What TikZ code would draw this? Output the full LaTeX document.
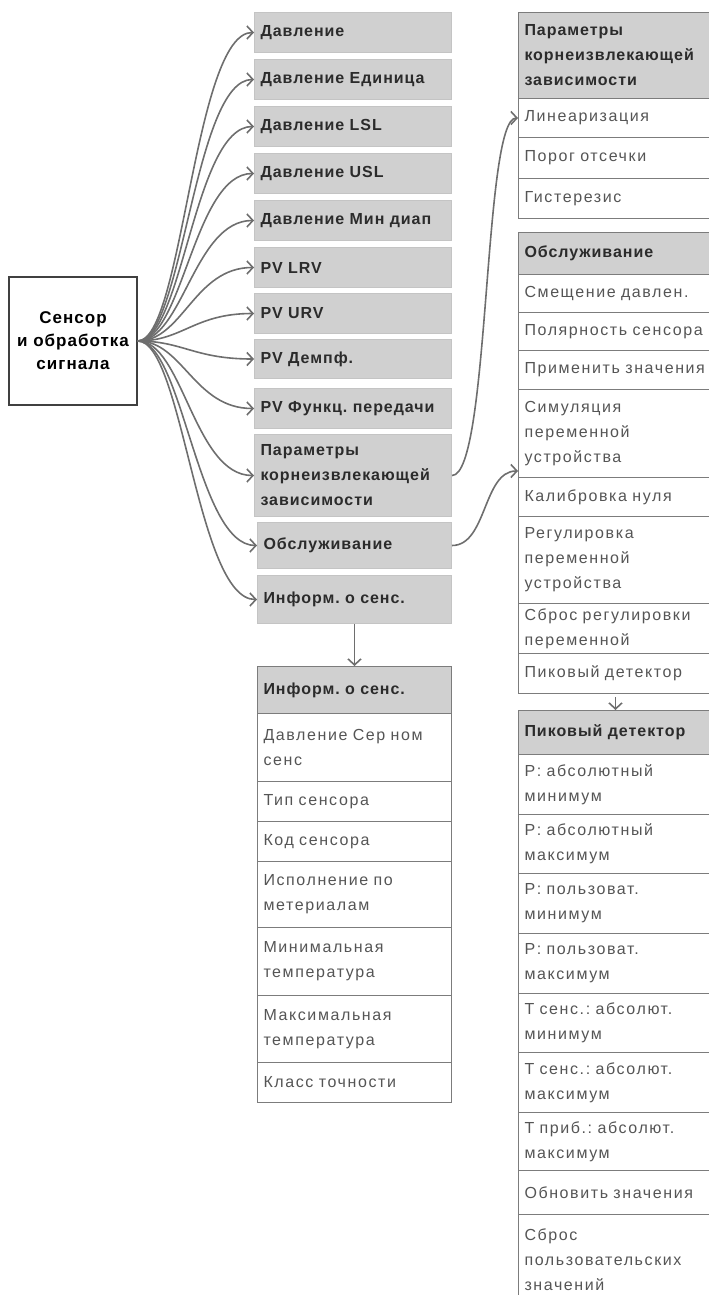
\documentclass[tikz,border=0pt]{standalone}
\usepackage{fontspec}
\setmainfont{Liberation Sans}[LetterSpace=6]
\usepackage{xcolor}
\usetikzlibrary{arrows.meta,positioning}
\frenchspacing
\definecolor{hdrgray}{HTML}{D0D0D0}
\definecolor{boxline}{HTML}{C4C4C4}
\definecolor{rowline}{HTML}{7C7C7C}
\definecolor{rowtext}{HTML}{555555}
\definecolor{hdrtext}{HTML}{2B2B2B}
\definecolor{arrowgray}{HTML}{6E6E6E}
\tikzset{
  cell/.style={anchor=north west, inner xsep=3pt, inner ysep=0pt, align=left,
    text width=91pt, font=\fontsize{8}{12.5}\selectfont},
  leftbox/.style={cell, fill=hdrgray, draw=boxline, line width=0.5pt,
    text=hdrtext, font=\fontsize{8}{12.5}\selectfont\bfseries},
  headrow/.style={cell, fill=hdrgray, draw=rowline, line width=0.5pt,
    text=hdrtext, font=\fontsize{8}{12.5}\selectfont\bfseries},
  plainrow/.style={cell, fill=white, draw=rowline, line width=0.5pt, text=rowtext,
    font=\fontsize{8}{12.5}\selectfont\addfontfeature{LetterSpace=10}},
  sensorbox/.style={draw=black!75, line width=0.75pt, fill=white, align=center,
    minimum width=64pt, minimum height=64pt, inner sep=0pt, text=black,
    font=\fontsize{8.5}{11.5}\selectfont\bfseries},
  fan/.style={draw=arrowgray, line width=0.8pt, -{Straight Barb[length=3pt,width=6.5pt]}}
}

\begin{document}
\begin{tikzpicture}[x=0.5pt,y=-0.5pt]
    \useasboundingbox (0,0) rectangle (708,1295);
    \node[sensorbox] (sensor) at (73,341) {Сенсор\\и обработка\\сигнала};

    \node[leftbox, text width=92.5pt, minimum height=20pt] (davl) at (254,12) {Давление};
    \node[leftbox, text width=92.5pt, minimum height=20pt] (davlUnit) at (254,59) {Давление Единица};
    \node[leftbox, text width=92.5pt, minimum height=20pt] (davlLSL) at (254,106) {Давление LSL};
    \node[leftbox, text width=92.5pt, minimum height=20pt] (davlUSL) at (254,153) {Давление USL};
    \node[leftbox, text width=92.5pt, minimum height=20pt] (davlMin) at (254,200) {Давление Мин диап};
    \node[leftbox, text width=92.5pt, minimum height=20pt] (pvLRV) at (254,247) {PV LRV};
    \node[leftbox, text width=92.5pt, minimum height=20pt] (pvURV) at (254,293) {PV URV};
    \node[leftbox, text width=92.5pt, minimum height=19.5pt] (pvDamp) at (254,339) {PV Демпф.};
    \node[leftbox, text width=92.5pt, minimum height=20pt] (pvTrans) at (254,388) {PV Функц. передачи};
    \node[leftbox, text width=92.5pt, minimum height=41pt] (sqrtPar) at (254,434) {Параметры\\корнеизвлекающей\\зависимости};
    \node[leftbox, minimum height=23pt] (service) at (257,522) {Обслуживание};
    \node[leftbox, minimum height=24pt] (sensInfo) at (257,575) {Информ. о сенс.};

    \draw[fan] (sensor.east) .. controls +(45,0) and +(-60,0) .. (davl.west);
    \draw[fan] (sensor.east) .. controls +(45,0) and +(-60,0) .. (davlUnit.west);
    \draw[fan] (sensor.east) .. controls +(45,0) and +(-60,0) .. (davlLSL.west);
    \draw[fan] (sensor.east) .. controls +(45,0) and +(-60,0) .. (davlUSL.west);
    \draw[fan] (sensor.east) .. controls +(45,0) and +(-60,0) .. (davlMin.west);
    \draw[fan] (sensor.east) .. controls +(45,0) and +(-60,0) .. (pvLRV.west);
    \draw[fan] (sensor.east) .. controls +(45,0) and +(-60,0) .. (pvURV.west);
    \draw[fan] (sensor.east) .. controls +(45,0) and +(-60,0) .. (pvDamp.west);
    \draw[fan] (sensor.east) .. controls +(45,0) and +(-60,0) .. (pvTrans.west);
    \draw[fan] (sensor.east) .. controls +(45,0) and +(-60,0) .. (sqrtPar.west);
    \draw[fan] (sensor.east) .. controls +(45,0) and +(-60,0) .. (service.west);
    \draw[fan] (sensor.east) .. controls +(45,0) and +(-60,0) .. (sensInfo.west);

    \node[headrow, minimum height=23.5pt] (infoHead) at (257,666) {Информ. о сенс.};
    \node[plainrow, minimum height=34pt] (infoSer) at (257,713) {Давление Сер ном\\сенс};
    \node[plainrow, minimum height=20pt] (infoType) at (257,781) {Тип сенсора};
    \node[plainrow, minimum height=20pt] (infoCode) at (257,821) {Код сенсора};
    \node[plainrow, minimum height=33pt] (infoMat) at (257,861) {Исполнение по\\метериалам};
    \node[plainrow, minimum height=34pt] (infoTmin) at (257,927) {Минимальная\\температура};
    \node[plainrow, minimum height=33.5pt] (infoTmax) at (257,995) {Максимальная\\температура};
    \node[plainrow, minimum height=20pt] (infoClass) at (257,1062) {Класс точности};
    \draw[fan] (sensInfo.south) -- (infoHead.north);

    \node[headrow, minimum height=43pt] (sqHead) at (518,12) {Параметры\\корнеизвлекающей\\зависимости};
    \node[plainrow, minimum height=19.5pt] (sqLin) at (518,98) {Линеаризация};
    \node[plainrow, minimum height=20.5pt] (sqCut) at (518,137) {Порог отсечки};
    \node[plainrow, minimum height=20pt] (sqHyst) at (518,178) {Гистерезис};

    \node[headrow, minimum height=21pt] (svHead) at (518,232) {Обслуживание};
    \node[plainrow, minimum height=19pt] (svOffset) at (518,274) {Смещение давлен.};
    \node[plainrow, minimum height=19pt] (svPolar) at (518,312) {Полярность сенсора};
    \node[plainrow, minimum height=19.5pt] (svApply) at (518,350) {Применить значения};
    \node[plainrow, minimum height=44pt] (svSim) at (518,389) {Симуляция\\переменной\\устройства};
    \node[plainrow, minimum height=19.5pt] (svZero) at (518,477) {Калибровка нуля};
    \node[plainrow, minimum height=43.5pt] (svTrim) at (518,516) {Регулировка\\переменной\\устройства};
    \node[plainrow, minimum height=25pt] (svReset) at (518,603) {Сброс регулировки\\переменной};
    \node[plainrow, minimum height=20pt] (svPeak) at (518,653) {Пиковый детектор};

    \node[headrow, minimum height=22pt] (pkHead) at (518,710) {Пиковый детектор};
    \node[plainrow, minimum height=30pt] (pkAbsMin) at (518,754) {P: абсолютный\\минимум};
    \node[plainrow, minimum height=29.5pt] (pkAbsMax) at (518,814) {P: абсолютный\\максимум};
    \node[plainrow, minimum height=30pt] (pkUsrMin) at (518,873) {P: пользоват.\\минимум};
    \node[plainrow, minimum height=30pt] (pkUsrMax) at (518,933) {P: пользоват.\\максимум};
    \node[plainrow, minimum height=29.5pt] (pkTsMin) at (518,993) {T сенс.: абсолют.\\минимум};
    \node[plainrow, minimum height=30pt] (pkTsMax) at (518,1052) {T сенс.: абсолют.\\максимум};
    \node[plainrow, minimum height=29pt] (pkTdMax) at (518,1112) {T приб.: абсолют.\\максимум};
    \node[plainrow, minimum height=22pt] (pkUpdate) at (518,1170) {Обновить значения};
    \node[plainrow, minimum height=45pt] (pkReset) at (518,1214) {Сброс\\пользовательских\\значений};
    \draw[fan] ([yshift=-1.5pt]svPeak.south) -- (pkHead.north);

    \draw[fan] (sqrtPar.east) .. controls +(38,0) and +(-35,0) .. (sqLin.west);
    \draw[fan] (service.east) .. controls +(35,0) and +(-35,0) .. ([yshift=3.5pt]svSim.south west);
\end{tikzpicture}
\end{document}
